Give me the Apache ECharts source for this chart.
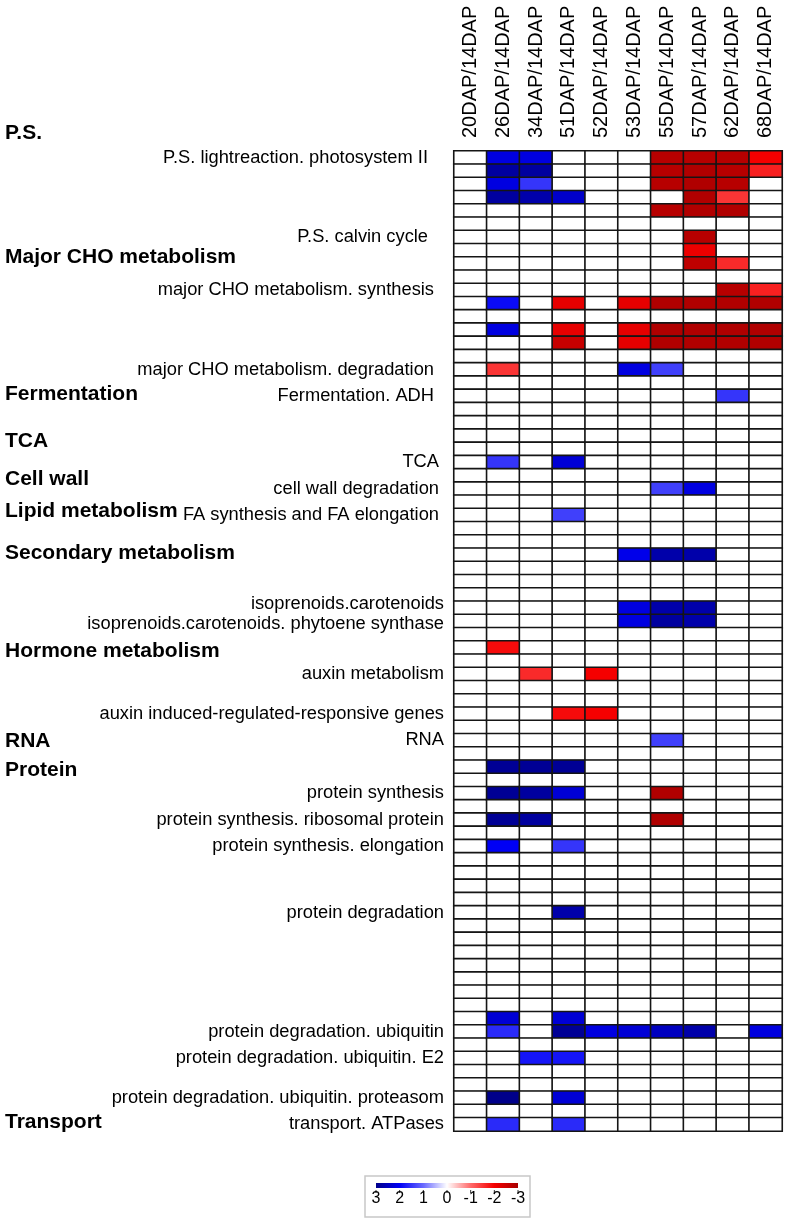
<!DOCTYPE html>
<html><head><meta charset="utf-8">
<script src="https://cdn.jsdelivr.net/npm/echarts/dist/echarts.min.js"></script>
<style>html,body{margin:0;padding:0;background:#fff}#c{width:800px;height:1229px}</style>
</head><body><div id="c"></div>
<script>
// ---------- DATA ----------
const columns = ['20DAP/14DAP','26DAP/14DAP','34DAP/14DAP','51DAP/14DAP','52DAP/14DAP',
                 '53DAP/14DAP','55DAP/14DAP','57DAP/14DAP','62DAP/14DAP','68DAP/14DAP'];
const rowCount = 74;
// [row number (1-based), label]
const rowLabels = [
  [1,'P.S. lightreaction. photosystem II'],
  [7,'P.S. calvin cycle'],
  [11,'major CHO metabolism. synthesis'],
  [17,'major CHO metabolism. degradation'],
  [19,'Fermentation. ADH'],
  [24,'TCA'],
  [26,'cell wall degradation'],
  [28,'FA synthesis and FA elongation'],
  [35,'isoprenoids.carotenoids'],
  [36,'isoprenoids.carotenoids. phytoene synthase'],
  [40,'auxin metabolism'],
  [43,'auxin induced-regulated-responsive genes'],
  [45,'RNA'],
  [49,'protein synthesis'],
  [51,'protein synthesis. ribosomal protein'],
  [53,'protein synthesis. elongation'],
  [58,'protein degradation'],
  [67,'protein degradation. ubiquitin'],
  [69,'protein degradation. ubiquitin. E2'],
  [72,'protein degradation. ubiquitin. proteasom'],
  [74,'transport. ATPases']
];
// [group name, row position (1-based, may be fractional)]
const groupHeaders = [
  ['P.S.', -0.7],
  ['Major CHO metabolism', 8.65],
  ['Fermentation', 19.0],
  ['TCA', 22.55],
  ['Cell wall', 25.4],
  ['Lipid metabolism', 27.8],
  ['Secondary metabolism', 30.95],
  ['Hormone metabolism', 38.4],
  ['RNA', 45.2],
  ['Protein', 47.4],
  ['Transport', 73.95]
];
// non-empty cells per column: [row number, value]
const col20 = [];
const col26 = [[1,2.2],[2,2.8],[3,2.2],[4,2.8],[12,1.9],[14,2.2],[17,-1.5],[24,1.5],[38,-1.9],
               [47,2.9],[49,2.9],[51,2.9],[53,2.0],[66,2.3],[67,1.6],[72,3.0],[74,1.6]];
const col34 = [[1,2.2],[2,2.8],[3,1.5],[4,2.7],[40,-1.6],[47,2.9],[49,2.8],[51,2.8],[69,1.8]];
const col51 = [[4,2.4],[12,-2.2],[14,-2.2],[15,-2.6],[24,2.3],[28,1.4],[43,-1.9],[47,2.9],[49,2.3],
               [53,1.5],[58,2.7],[66,2.3],[67,2.9],[69,1.8],[72,2.3],[74,1.6]];
const col52 = [[40,-2.0],[43,-2.0],[67,2.2]];
const col53 = [[12,-2.2],[14,-2.2],[15,-2.2],[17,2.2],[31,2.1],[35,2.2],[36,2.2],[67,2.3]];
const col55 = [[1,-2.8],[2,-2.8],[3,-2.8],[5,-2.8],[12,-2.9],[14,-2.9],[15,-2.9],[17,1.4],[26,1.4],
               [31,2.7],[35,2.7],[36,2.8],[45,1.4],[49,-2.9],[51,-2.9],[67,2.5]];
const col57 = [[1,-2.8],[2,-2.9],[3,-2.9],[4,-2.9],[5,-2.9],[7,-2.8],[8,-2.1],[9,-2.7],[12,-2.9],
               [14,-2.9],[15,-2.9],[26,2.2],[31,2.7],[35,2.7],[36,2.7],[67,2.7]];
const col62 = [[1,-2.8],[2,-2.8],[3,-2.8],[4,-1.5],[5,-2.9],[9,-1.6],[11,-2.8],[12,-2.9],[14,-2.9],
               [15,-2.9],[19,1.5]];
const col68 = [[1,-2.0],[2,-1.7],[11,-1.7],[12,-2.9],[14,-2.9],[15,-2.9],[67,2.2]];
const columnCells = [col20,col26,col34,col51,col52,col53,col55,col57,col62,col68];
const legendTicks = [3,2,1,0,-1,-2,-3];
const scaleColors = ['#a80000','#f50000','#ff6a6a','#ffffff','#6a6aff','#0000f5','#00008a']; // -3 .. 3

// ---------- BUILD ----------
// layout: labels in the upper part sit a little further from the grid;
// the two stacked isoprenoid labels are spread apart vertically
function labelStyle(r) {
  const right = r <= 10 ? 16 : r <= 20 ? 10 : r <= 30 ? 5 : 0;
  const st = {padding: [0, right, 0, 0]};
  if (r === 35) { st.verticalAlign = 'bottom'; st.lineHeight = 8; }
  if (r === 36) { st.verticalAlign = 'top'; st.lineHeight = 6; }
  return st;
}
const yData = [];
for (let r = 1; r <= rowCount; r++) yData.push({value: '', textStyle: labelStyle(r)});
rowLabels.forEach(([r, t]) => { yData[r - 1].value = t; });
const cells = [];
columnCells.forEach((list, c) => {
  const m = {};
  list.forEach(([r, v]) => { m[r] = v; });
  for (let r = 1; r <= rowCount; r++) cells.push([c, r - 1, m[r] !== undefined ? m[r] : 0]);
});

const FONT = 'Liberation Sans, Arial, sans-serif';
const chart = echarts.init(document.getElementById('c'), null, {renderer: 'canvas'});
chart.setOption({
  backgroundColor: '#fff',
  animation: false,
  grid: {left: 454, right: 18, top: 151, bottom: 98},
  xAxis: {
    type: 'category', position: 'top', data: columns,
    axisLine: {show: false}, axisTick: {show: false}, splitLine: {show: false},
    axisLabel: {rotate: -90, margin: 13, fontSize: 20, color: '#000', fontFamily: FONT, interval: 0}
  },
  yAxis: {
    type: 'category', inverse: true, data: yData,
    axisLine: {show: false}, axisTick: {show: false}, splitLine: {show: false},
    axisLabel: {margin: 10, fontSize: 18.3, color: '#000', fontFamily: FONT, interval: 0}
  },
  visualMap: {
    show: false, type: 'continuous', min: -3, max: 3, dimension: 2,
    inRange: {color: scaleColors}
  },
  series: [{
    type: 'heatmap', data: cells,
    itemStyle: {borderColor: '#151515', borderWidth: 1.6},
    emphasis: {disabled: true}
  }]
});

// group headers (bold) anchored to row positions
const y0 = chart.convertToPixel({yAxisIndex: 0}, 0);
const y1 = chart.convertToPixel({yAxisIndex: 0}, 1);
const step = y1 - y0;
const graphics = groupHeaders.map(([name, pos]) => ({
  type: 'text', left: 5, top: y0 + (pos - 1) * step - 12,
  style: {text: name, font: 'bold 21px ' + FONT, fill: '#000'}
}));

// colour-scale legend
const barL = 376, barW = 142, barT = 1183, barH = 5;
const stops = scaleColors.slice().reverse().map((col, i) => ({offset: i / (scaleColors.length - 1), color: col}));
graphics.push({type: 'rect', shape: {x: 365, y: 1176, width: 165, height: 41},
  style: {fill: '#fff', stroke: '#c8c8c8', lineWidth: 1.5}});
graphics.push({type: 'rect', shape: {x: barL, y: barT, width: barW, height: barH},
  style: {fill: new echarts.graphic.LinearGradient(0, 0, 1, 0, stops)}});
legendTicks.forEach((t, i) => {
  const x = barL + i * barW / (legendTicks.length - 1);
  graphics.push({type: 'line', shape: {x1: x, y1: barT + barH + 2, x2: x, y2: barT + barH + 5},
    style: {stroke: '#333', lineWidth: 1}});
  graphics.push({type: 'text', x: x, y: 1199,
    style: {text: String(t), font: '16px ' + FONT, fill: '#000', align: 'center', verticalAlign: 'middle'}});
});
chart.setOption({graphic: graphics});
</script>
</body></html>
